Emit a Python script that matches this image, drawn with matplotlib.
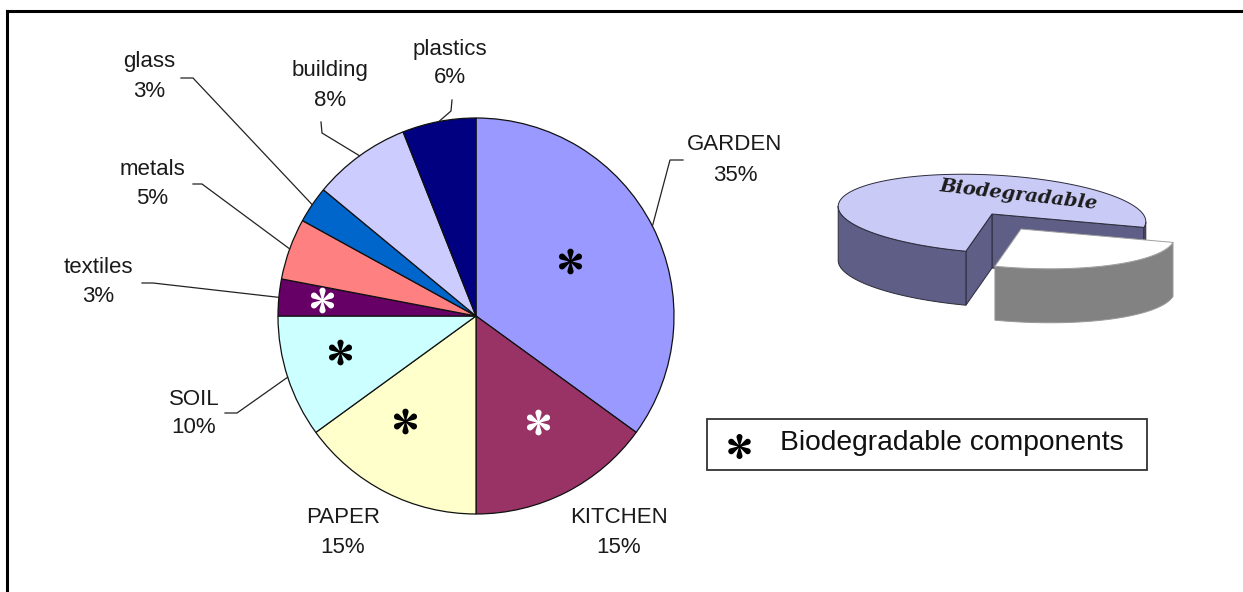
import numpy as np
import matplotlib
matplotlib.use("Agg")
import matplotlib.pyplot as plt
from matplotlib.path import Path
from matplotlib.patches import Polygon, Rectangle

# ---- data -------------------------------------------------------------
categories = ["GARDEN", "KITCHEN", "PAPER", "SOIL", "textiles",
              "metals", "glass", "building", "plastics"]
shares = [35, 15, 15, 10, 3, 5, 3, 8, 6]
biodegradable = [True, True, True, True, True, False, False, False, False]
slice_colors = ["#9999ff", "#993366", "#ffffcc", "#ccffff", "#660066",
                "#ff8080", "#0066cc", "#ccccff", "#000080"]
legend_label = "Biodegradable components"
badge_text = "Biodegradable"

# ---- canvas in pixel units (y grows downwards) -------------------------
W, H = 1243, 592
fig = plt.figure(figsize=(W / 100, H / 100), dpi=100)
ax = fig.add_axes([0, 0, 1, 1])
plt.rcParams["font.family"] = ["Liberation Sans", "DejaVu Sans"]

CX, CY, R = 476, 316, 198
TXT = "#1a1a1a"
FS = 16

# y axis is inverted, so counter-clockwise in data == clockwise on screen
ax.pie(shares, colors=slice_colors, startangle=-90, counterclock=True,
       center=(CX, CY), radius=R, frame=True,
       wedgeprops=dict(edgecolor="#111111", linewidth=0.9))
ax.set_xlim(0, W)
ax.set_ylim(H, 0)
ax.axis("off")

# angle (degrees clockwise from 12 o'clock) at the middle of each slice
cum = np.cumsum([0] + shares)
mid_deg = {c: 3.6 * (cum[i] + shares[i] / 2) for i, c in enumerate(categories)}


def on_circle(angle_deg, frac=1.0):
    a = np.deg2rad(angle_deg)
    return CX + frac * R * np.sin(a), CY - frac * R * np.cos(a)


# ---- labels: (x centre, baseline of name, baseline of percent) ----------
label_pos = {
    "GARDEN": (735, 150, 181),
    "KITCHEN": (619, 523, 553),
    "PAPER": (343, 523, 553),
    "SOIL": (194, 405, 433),
    "textiles": (98, 273, 302),
    "metals": (152, 175, 204),
    "glass": (149, 67, 97),
    "building": (330, 76, 106),
    "plastics": (450, 55, 83),
}
leader_start = {
    "GARDEN": [(683, 160), (670, 160)],
    "plastics": [(452, 100), (451, 111)],
    "building": [(321, 122), (322, 133)],
    "glass": [(181, 78), (193, 78)],
    "metals": [(193, 184), (202, 184)],
    "textiles": [(142, 283), (153, 283)],
    "SOIL": [(225, 413), (237, 413)],
}

for c, v in zip(categories, shares):
    x, y1, y2 = label_pos[c]
    ax.text(x, y1, c, ha="center", va="baseline", fontsize=FS, color=TXT)
    ax.text(x, y2, f"{v}%", ha="center", va="baseline", fontsize=FS, color=TXT)
    if c in leader_start:
        pts = leader_start[c] + [on_circle(mid_deg[c])]
        xs, ys = zip(*pts)
        ax.plot(xs, ys, color="#222222", lw=0.9, solid_joinstyle="miter")


# ---- six-spoked teardrop asterisk marker ------------------------------
def asterisk_path():
    verts, codes = [], []
    phi = np.deg2rad(np.linspace(-105, 105, 25))
    hc, hr = 0.76, 0.24
    spoke = [(0.0, -0.035)]
    spoke += [(hc + hr * np.cos(p), hr * np.sin(p)) for p in phi]
    spoke += [(0.0, 0.035)]
    spoke = np.array(spoke)
    for k in range(6):
        a = np.deg2rad(90 + 60 * k)
        rot = np.array([[np.cos(a), -np.sin(a)], [np.sin(a), np.cos(a)]])
        s = spoke @ rot.T
        verts.extend(s.tolist() + [s[0].tolist()])
        codes.extend([Path.MOVETO] + [Path.LINETO] * (len(s) - 1) + [Path.CLOSEPOLY])
    return Path(verts, codes)


STAR = asterisk_path()
star_place = {  # (angle clockwise from top, fraction of radius)
    "GARDEN": (59.5, 0.55),
    "KITCHEN": (149.7, 0.62),
    "PAPER": (214.0, 0.64),
    "SOIL": (255.0, 0.71),
    "textiles": (276.0, 0.78),
}
for c, col, bio in zip(categories, slice_colors, biodegradable):
    if not bio:
        continue
    r, g, b = matplotlib.colors.to_rgb(col)
    star_col = "white" if (0.3 * r + 0.59 * g + 0.11 * b) < 0.45 else "black"
    sx, sy = on_circle(*star_place[c])
    ax.plot([sx], [sy], ls="none", marker=STAR, ms=18.5, mfc=star_col,
            mec="none", zorder=5)

# ---- legend box -------------------------------------------------------
ax.add_patch(Rectangle((707, 419), 440, 51, fill=False, edgecolor="#333333",
                       lw=1.3, zorder=4))
ax.plot([739], [446], ls="none", marker=STAR, ms=18, mfc="black", mec="none",
        zorder=5)
ax.text(780, 443, legend_label, ha="left", va="center", fontsize=20.3,
        color="#111111")

# ---- 3-D pie badge with one slice pulled out --------------------------
BX, BY, A3, B3, TILT, DEPTH = 992, 214, 154, 39, np.deg2rad(3), 54
CUT0, CUT1 = 8, 99          # removed slice, degrees around the ellipse
OFF = (29, 15)
TOP_COL, SIDE_COL, EDGE = "#cacaf7", "#5e5e86", "#2b2b3a"


def rim(t_deg, dx=0.0, dy=0.0):
    t = np.deg2rad(np.atleast_1d(t_deg))
    x, y = A3 * np.cos(t), B3 * np.sin(t)
    X = x * np.cos(TILT) - y * np.sin(TILT)
    Y = x * np.sin(TILT) + y * np.cos(TILT)
    return np.column_stack([BX + X + dx, BY + Y + dy])


def side(t0, t1, dx=0.0, dy=0.0):
    top = rim(np.linspace(t0, t1, 60), dx, dy)
    bot = top[::-1] + [0, DEPTH]
    return np.vstack([top, bot])


def cut_face(t, dx=0.0, dy=0.0):
    c = np.array([BX + dx, BY + dy])
    p = rim(t, dx, dy)[0]
    return np.array([c, p, p + [0, DEPTH], c + [0, DEPTH]])


# main body
for t in (CUT0, CUT1):
    ax.add_patch(Polygon(cut_face(t), closed=True, fc=SIDE_COL, ec=EDGE,
                         lw=0.7, zorder=2))
for t0, t1 in ((CUT1, 180), (360, 360 + CUT0)):
    ax.add_patch(Polygon(side(t0, t1), closed=True, fc=SIDE_COL, ec=EDGE,
                         lw=0.7, zorder=2))
top = np.vstack([[BX, BY], rim(np.linspace(CUT1, 360 + CUT0, 200))])
ax.add_patch(Polygon(top, closed=True, fc=TOP_COL, ec=EDGE, lw=0.7, zorder=2))

# pulled-out slice
ax.add_patch(Polygon(side(CUT0, CUT1, *OFF), closed=True, fc="#828282",
                     ec="#9a9a9a", lw=0.7, zorder=3))
wtop = np.vstack([[BX + OFF[0], BY + OFF[1]],
                  rim(np.linspace(CUT0, CUT1, 80), *OFF)])
ax.add_patch(Polygon(wtop, closed=True, fc="white", ec="#a0a0a0", lw=0.7,
                     zorder=3))

ax.text(1018, 195, badge_text, ha="center", va="center", rotation=-6.5,
        fontsize=14, style="italic", weight="bold", family="DejaVu Serif",
        color="#1c1c1c", zorder=4)

# ---- frame lines along the top and left edges --------------------------
ax.plot([7, W], [10.5, 10.5], color="black", lw=2.2, clip_on=False,
        solid_capstyle="projecting")
ax.plot([7, 7], [10.5, H], color="black", lw=2.2, clip_on=False,
        solid_capstyle="projecting")

fig.savefig("out.png", dpi=100, facecolor="white")
